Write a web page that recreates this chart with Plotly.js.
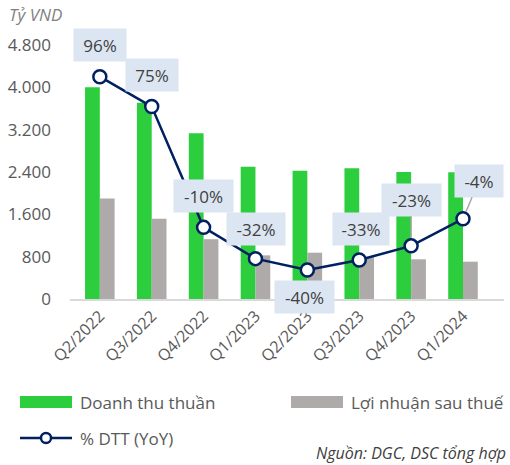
<!DOCTYPE html>
<html>
<head>
<meta charset="utf-8">
<script src="https://cdn.plot.ly/plotly-3.0.1.min.js"></script>
<style>html,body{margin:0;padding:0;background:#fff;}#chart{width:510px;height:465px;}</style>
</head>
<body>
<div id="chart"></div>
<script>
// ---- data ----
var categories = ['Q2/2022','Q3/2022','Q4/2022','Q1/2023','Q2/2023','Q3/2023','Q4/2023','Q1/2024'];
var revenue = [4000, 3710, 3130, 2500, 2425, 2470, 2400, 2395];   // Doanh thu thuần
var profit  = [1900, 1515, 1130, 825, 875, 790, 750, 705];        // Lợi nhuận sau thuế
var yoy     = [96, 75, -10, -32, -40, -33, -23, -4];              // % DTT (YoY)
var yTicks  = [0, 800, 1600, 2400, 3200, 4000, 4800];

// ---- styles ----
var W = 510, H = 465;
var M = {l: 70, r: 6, t: 45, b: 166};
var GREEN = '#2dce3e', GRAY = '#aeaaaa', NAVY = '#002060';
var FONT = 'Open Sans, sans-serif';
var labelOffsets = [[0,-32],[0,-32],[0,-31],[1,-30],[-3,27],[2,-31],[0,-46],[16,-38]];
var labelWidths  = [52, 52, 59, 58, 59, 56, 59, 48];
var leader       = [false,false,false,false,false,false,true,true];

function px(x){ return (x - M.l) / (W - M.l - M.r); }
function py(y){ return (H - M.b - y) / (H - M.t - M.b); }

var traces = [
  {type:'bar', name:'Doanh thu thuần', x:categories, y:revenue, marker:{color:GREEN}, yaxis:'y'},
  {type:'bar', name:'Lợi nhuận sau thuế', x:categories, y:profit, marker:{color:GRAY}, yaxis:'y'},
  {type:'scatter', mode:'lines+markers', name:'% DTT (YoY)', x:categories, y:yoy, yaxis:'y2',
   line:{color:NAVY, width:2.5},
   marker:{symbol:'circle', size:13, color:'#ffffff', line:{color:NAVY, width:2.5}}}
];

var annotations = yoy.map(function(v,i){
  return {xref:'x', yref:'y2', x:categories[i], y:v, text:v+'%',
    showarrow:true, ax:labelOffsets[i][0], ay:labelOffsets[i][1],
    arrowhead:0, arrowwidth:1.5, standoff:8,
    arrowcolor: leader[i] ? '#a6a6a6' : 'rgba(0,0,0,0)',
    bgcolor:'#dce6f2', width:labelWidths[i], height:32, borderpad:0,
    font:{family:FONT, size:17, color:'#404040'}};
});

// custom legend + notes
annotations.push(
  {xref:'paper', yref:'paper', x:px(78), y:py(402), xanchor:'left', yanchor:'middle', showarrow:false,
   text:'Doanh thu thuần', font:{family:FONT, size:17, color:'#595959'}},
  {xref:'paper', yref:'paper', x:px(349), y:py(402), xanchor:'left', yanchor:'middle', showarrow:false,
   text:'Lợi nhuận sau thuế', font:{family:FONT, size:17, color:'#595959'}},
  {xref:'paper', yref:'paper', x:px(78), y:py(438), xanchor:'left', yanchor:'middle', showarrow:false,
   text:'% DTT (YoY)', font:{family:FONT, size:17, color:'#595959'}},
  {xref:'paper', yref:'paper', x:px(508), y:py(453), xanchor:'right', yanchor:'middle', showarrow:false,
   text:'<i>Nguồn: DGC, DSC tổng hợp</i>', font:{family:FONT, size:16, color:'#404040'}},
  {xref:'paper', yref:'paper', x:px(7), y:py(15), xanchor:'left', yanchor:'middle', showarrow:false,
   text:'<i>Tỷ VND</i>', font:{family:FONT, size:17, color:'#7f7f7f'}}
);

var shapes = [
  {type:'rect', xref:'paper', yref:'paper', x0:px(20), x1:px(72), y0:py(396), y1:py(408), fillcolor:GREEN, line:{width:0}},
  {type:'rect', xref:'paper', yref:'paper', x0:px(291), x1:px(343), y0:py(396), y1:py(408), fillcolor:GRAY, line:{width:0}},
  {type:'line', xref:'paper', yref:'paper', x0:px(20), x1:px(72), y0:py(438), y1:py(438), line:{color:NAVY, width:2.5}},
  {type:'circle', xref:'paper', yref:'paper', x0:px(41), x1:px(51), y0:py(433), y1:py(443), fillcolor:'#ffffff', line:{color:NAVY, width:2.5}}
];

var layout = {
  width:W, height:H, margin:M,
  paper_bgcolor:'#ffffff', plot_bgcolor:'#ffffff',
  separators:',.',
  showlegend:false,
  barmode:'group', bargap:0.43, bargroupgap:0,
  font:{family:FONT, color:'#595959'},
  xaxis:{type:'category', showgrid:false, zeroline:false, showline:true, linecolor:'#d9d9d9', linewidth:1.5,
         ticks:'', tickangle:-45, tickfont:{family:FONT, size:16, color:'#595959'}},
  yaxis:{range:[0,4800], tickvals:yTicks, tickformat:',d', showgrid:false, zeroline:false, showline:false,
         ticks:'', ticklabelstandoff:18, tickfont:{family:FONT, size:17, color:'#595959'}},
  yaxis2:{overlaying:'y', side:'right', range:[-60.4,118.3], visible:false, showgrid:false, zeroline:false},
  annotations:annotations,
  shapes:shapes
};

Plotly.newPlot('chart', traces, layout, {staticPlot:true, displayModeBar:false});
</script>
</body>
</html>
